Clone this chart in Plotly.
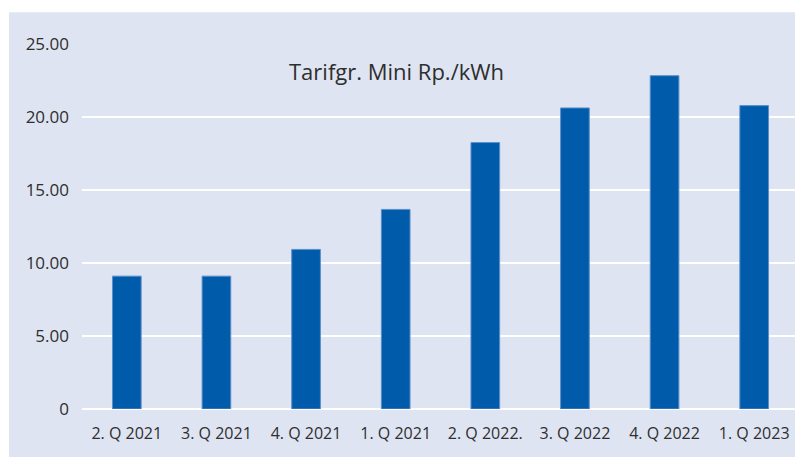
import plotly.graph_objects as go

categories = ["2. Q 2021", "3. Q 2021", "4. Q 2021", "1. Q 2021",
              "2. Q 2022.", "3. Q 2022", "4. Q 2022", "1. Q 2023"]
values = [9.10, 9.10, 10.93, 13.67, 18.25, 20.62, 22.83, 20.78]
tick_vals = [0, 5, 10, 15, 20, 25]
tick_text = ["0", "5.00", "10.00", "15.00", "20.00", "25.00"]
title_text = "Tarifgr. Mini Rp./kWh"

BG = "#dfe4f2"
BAR = "#005bab"
TXT = "#2e2e2e"
FONT = "Open Sans"

fig = go.Figure(go.Bar(
    x=categories, y=values,
    marker=dict(color=BAR, line=dict(color="#5b8fca", width=1)),
    hoverinfo="x+y",
))

fig.update_layout(
    width=803, height=457,
    margin=dict(l=74, r=12, t=36, b=56),
    paper_bgcolor="white",
    plot_bgcolor="rgba(0,0,0,0)",
    bargap=0.68,
    showlegend=False,
    font=dict(family=FONT, size=16, color=TXT),
    shapes=[dict(type="rect", xref="paper", yref="paper",
                 x0=-0.1018, x1=1.1, y0=-0.3, y1=1.0868,
                 fillcolor=BG, line=dict(width=0), layer="below")],
    annotations=[dict(text=title_text, xref="paper", yref="paper",
                      x=0.4386, y=0.927, xanchor="center", yanchor="middle",
                      showarrow=False, font=dict(family=FONT, size=22, color=TXT))],
)
fig.update_xaxes(showgrid=False, showline=False, zeroline=False, ticks="",
                 ticklabelstandoff=13,
                 tickfont=dict(size=16, color=TXT), fixedrange=True)
fig.update_yaxes(range=[0, 25], tickvals=tick_vals, ticktext=tick_text,
                 showgrid=True, gridcolor="white", gridwidth=2,
                 zeroline=True, zerolinecolor="white", zerolinewidth=2,
                 showline=False, ticks="", ticklabelstandoff=12,
                 tickfont=dict(size=17, color=TXT), fixedrange=True)

fig.write_html("out.html")
